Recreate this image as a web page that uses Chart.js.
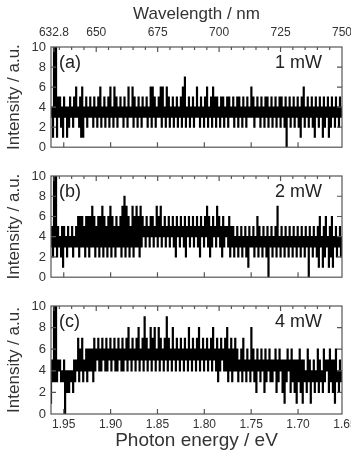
<!DOCTYPE html>
<html>
<head>
<meta charset="utf-8">
<script src="https://cdn.jsdelivr.net/npm/chart.js@4.4.0/dist/chart.umd.min.js"></script>
<style>
  html, body { margin: 0; padding: 0; background: #fff; }
  #wrap { position: relative; width: 351px; height: 457px; }
  canvas { position: absolute; left: 0; }
</style>
</head>
<body>
<div id="wrap">
  <canvas id="panelA" width="351" height="160" style="top:0px"></canvas>
  <canvas id="panelB" width="351" height="130" style="top:160px"></canvas>
  <canvas id="panelC" width="351" height="167" style="top:290px"></canvas>
</div>
<script>
// PL spectra, counts per detector bin, high energy -> low energy
var spectrum1mW = [
  3,4,1,10,3,10,1,5,3,5,2,4,1,5,3,4,1,4,2,5,
  3,4,2,5,3,6,3,4,2,5,1,6,1,4,3,5,2,4,3,5,
  3,4,2,5,3,4,2,5,3,6,2,4,3,5,2,4,3,5,2,6,
  3,4,2,6,3,5,2,4,3,5,3,4,2,5,3,4,2,6,3,4,
  3,6,2,5,3,4,2,5,3,4,2,5,3,4,3,5,2,4,3,6,
  2,6,3,5,2,4,3,5,3,6,2,6,3,4,2,6,3,5,2,4,
  3,5,2,4,3,5,2,4,3,5,2,6,3,7,2,4,3,5,2,4,
  3,5,2,4,3,6,3,4,2,5,3,4,2,5,3,6,2,4,3,5,
  2,6,3,5,2,5,3,4,2,5,3,5,2,4,3,5,2,5,3,4,
  3,5,2,4,3,5,2,5,3,4,2,5,3,4,2,5,3,4,3,6,
  3,5,2,4,3,5,3,4,2,5,3,4,2,5,3,5,2,4,3,5,
  2,4,3,5,2,4,3,5,2,5,3,4,2,5,0,4,3,5,2,4,
  3,5,2,4,3,5,2,4,1,5,3,6,2,4,3,5,2,4,3,5,
  2,4,1,5,3,4,2,5,3,4,1,5,2,4,3,5,1,4,2,5,
  3,4,2,5,3,4,2,5,3,4
];
var spectrum2mW = [
  3,5,2,10,3,10,2,5,3,4,2,5,1,5,3,4,2,5,3,4,
  3,5,2,4,3,5,3,6,2,6,3,6,3,5,2,6,3,6,2,6,
  3,7,3,6,2,5,3,6,2,6,3,7,2,6,3,5,2,6,3,7,
  2,6,3,5,2,6,3,5,3,6,2,7,3,8,2,7,3,6,2,5,
  3,7,2,6,3,7,3,6,2,7,3,6,4,5,3,6,4,5,3,6,
  4,6,3,5,4,7,3,6,4,7,3,5,4,6,3,5,4,6,3,5,
  4,6,3,5,2,6,4,5,3,6,4,5,3,6,2,5,4,6,3,5,
  4,6,3,5,4,6,3,5,2,6,4,5,3,6,4,7,3,6,2,5,
  3,6,4,5,3,7,4,6,3,5,2,6,3,5,4,5,3,6,2,5,
  3,5,2,4,3,5,2,4,3,5,2,4,3,5,2,4,1,5,3,4,
  3,5,2,4,3,6,2,5,3,4,2,5,3,4,2,5,0,4,3,5,
  2,4,3,5,2,7,3,4,2,5,3,4,2,5,3,4,2,5,3,4,
  2,5,3,4,2,5,3,4,2,5,3,4,2,5,3,4,0,5,3,4,
  2,5,3,4,2,5,1,6,3,4,1,5,2,6,3,4,1,5,2,6,
  1,4,3,5,2,4,3,5,2,4
];
var spectrum4mW = [
  1,5,3,10,3,10,3,5,4,5,3,4,3,5,0,4,2,4,2,4,
  3,4,2,5,3,5,4,7,3,6,4,7,3,5,4,6,3,6,4,6,
  4,6,3,7,4,6,5,7,4,6,4,7,5,6,4,7,4,6,5,7,
  4,6,5,7,4,6,4,7,5,6,4,7,4,6,5,7,4,8,5,6,
  4,7,5,6,4,7,5,8,4,6,5,7,4,9,5,7,4,6,5,8,
  4,7,5,8,4,6,5,8,4,7,5,6,4,7,5,9,4,7,5,6,
  4,8,5,6,4,7,5,6,4,7,5,6,4,7,5,6,4,8,5,6,
  4,7,5,6,4,7,5,8,4,6,5,7,4,6,5,7,4,6,5,7,
  4,8,5,6,4,7,3,6,4,7,5,6,4,7,4,8,3,6,4,7,
  3,6,4,7,4,6,3,5,4,6,3,7,4,5,3,6,4,5,3,8,
  4,6,3,5,2,6,4,5,3,6,4,5,2,6,3,5,4,6,3,5,
  3,5,4,6,2,5,3,6,4,5,2,5,1,5,3,6,4,5,2,6,
  3,5,2,5,1,5,3,6,2,5,1,5,3,4,2,6,3,5,1,4,
  3,5,2,4,3,6,2,5,3,4,2,6,3,5,4,5,2,6,3,5,
  2,5,1,6,3,4,2,5,3,4
];

// detector range in eV (left edge -> right edge)
var energyHigh = 1.9636;
var energyLow = 1.6531;

var energyTicks = [1.95, 1.90, 1.85, 1.80, 1.75, 1.70, 1.65];
var wavelengthTicks = [632.8, 650, 675, 700, 725, 750];
var wavelengthMinor = [635, 640, 645, 655, 660, 665, 670, 680, 685, 690, 695, 705, 710, 715, 720, 730, 735, 740, 745];
var intensityTicks = [2, 4, 6, 8];

Chart.defaults.font.family = '"Liberation Sans", Arial, sans-serif';
Chart.defaults.color = '#333';

function toPoints(values) {
  var step = (energyHigh - energyLow) / (values.length - 1);
  return values.map(function(v, i) {
    return { x: energyHigh - i * step, y: v };
  });
}

// frame, inward ticks and the panel captions
function panelDecor(tag, power) {
  return {
    id: 'panelDecor',
    afterDatasetsDraw: function(chart) {
      var ctx = chart.ctx, a = chart.chartArea, s = chart.scales;
      ctx.save();
      ctx.strokeStyle = '#555';
      ctx.lineWidth = 1.2;
      ctx.strokeRect(a.left, a.top, a.width, a.height);
      ctx.beginPath();
      intensityTicks.forEach(function(v) {
        var py = s.y.getPixelForValue(v);
        ctx.moveTo(a.left, py); ctx.lineTo(a.left + 5, py);
        ctx.moveTo(a.right - 5, py); ctx.lineTo(a.right, py);
      });
      energyTicks.forEach(function(v) {
        var px = s.x.getPixelForValue(v);
        if (px < a.left + 1 || px > a.right - 1) return;
        ctx.moveTo(px, a.bottom); ctx.lineTo(px, a.bottom - 5);
      });
      wavelengthTicks.forEach(function(v) {
        var px = s.x2.getPixelForValue(v);
        if (px < a.left + 1 || px > a.right - 1) return;
        ctx.moveTo(px, a.top); ctx.lineTo(px, a.top + 5);
      });
      wavelengthMinor.forEach(function(v) {
        var px = s.x2.getPixelForValue(v);
        ctx.moveTo(px, a.top); ctx.lineTo(px, a.top + 3);
      });
      ctx.stroke();
      ctx.fillStyle = '#222';
      ctx.font = '18px "Liberation Sans", Arial, sans-serif';
      ctx.textBaseline = 'middle';
      ctx.textAlign = 'left';
      ctx.fillText(tag, a.left + 8, a.top + 16.5);
      ctx.textAlign = 'right';
      ctx.fillText(power, a.right - 20, a.top + 16.5);
      ctx.restore();
    }
  };
}

function makePanel(id, values, tag, power, topH, bottomH, topLabels, bottomLabels) {
  return new Chart(document.getElementById(id), {
    type: 'line',
    data: {
      datasets: [{
        data: toPoints(values),
        borderColor: '#000',
        borderWidth: 1.2,
        stepped: 'middle',
        pointRadius: 0,
        fill: false
      }]
    },
    options: {
      responsive: false,
      animation: false,
      layout: { padding: { left: 0, right: 9, top: 0, bottom: 0 } },
      plugins: { legend: { display: false }, tooltip: { enabled: false } },
      scales: {
        x: {
          type: 'linear',
          reverse: true,
          min: energyLow,
          max: energyHigh,
          position: 'bottom',
          grid: { display: false, drawTicks: false },
          border: { display: false },
          afterBuildTicks: function(sc) {
            sc.ticks = energyTicks.map(function(v) { return { value: v }; });
          },
          ticks: {
            display: bottomLabels,
            autoSkip: false,
            maxRotation: 0,
            padding: 3,
            font: { size: 12 },
            callback: function(v) { return v.toFixed(2); }
          },
          title: {
            display: bottomLabels,
            text: 'Photon energy / eV',
            font: { size: 19 },
            padding: { top: 0, bottom: 5 }
          },
          afterFit: function(sc) {
            sc.height = bottomH;
            sc.paddingLeft = 0;
            sc.paddingRight = 0;
          }
        },
        x2: {
          type: 'linear',
          position: 'top',
          min: 631.6,
          max: 750,
          grid: { display: false, drawTicks: false },
          border: { display: false },
          afterBuildTicks: function(sc) {
            sc.ticks = wavelengthTicks.map(function(v) { return { value: v }; });
          },
          ticks: {
            display: topLabels,
            autoSkip: false,
            maxRotation: 0,
            padding: 7,
            font: { size: 12 },
            callback: function(v) { return String(v); }
          },
          title: {
            display: topLabels,
            text: 'Wavelength / nm',
            font: { size: 17 },
            padding: { top: 4, bottom: 0 }
          },
          afterFit: function(sc) {
            sc.height = topH;
            sc.paddingLeft = 0;
            sc.paddingRight = 0;
          }
        },
        y: {
          min: 0,
          max: 10,
          grid: { display: false, drawTicks: false },
          border: { display: false },
          ticks: { stepSize: 2, padding: 5, font: { size: 13 } },
          title: {
            display: true,
            text: 'Intensity / a.u.',
            font: { size: 17 },
            padding: { top: 4, bottom: 0 }
          },
          afterFit: function(sc) { sc.width = 51; }
        }
      }
    },
    plugins: [panelDecor(tag, power)]
  });
}

makePanel('panelA', spectrum1mW, '(a)', '1 mW', 47, 5, true, false);
makePanel('panelB', spectrum2mW, '(b)', '2 mW', 16, 5, false, false);
makePanel('panelC', spectrum4mW, '(c)', '4 mW', 16, 43, false, true);
</script>
</body>
</html>
